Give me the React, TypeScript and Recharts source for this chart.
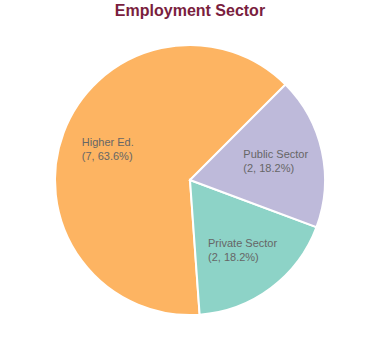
import { PieChart, Pie, Cell } from "recharts";

const sectors = ["Higher Ed.", "Private Sector", "Public Sector"];
const counts = [7, 2, 2];
const colors = ["#FDB462", "#8DD3C7", "#BEBADA"];

const FONT = "11px 'Liberation Sans', Arial, sans-serif";
const total = counts.reduce((a, b) => a + b, 0);

const measure = (s: string) => {
  const ctx = document.createElement("canvas").getContext("2d");
  if (!ctx) return s.length * 6;
  ctx.font = FONT;
  return ctx.measureText(s).width;
};

const renderLabel = (props: any) => {
  const { cx, cy, midAngle, outerRadius, payload } = props;
  const r = outerRadius * 0.65;
  const rad = (Math.PI / 180) * midAngle;
  const x = cx + r * Math.cos(rad);
  const y = cy - r * Math.sin(rad);
  const line1 = payload.name;
  const line2 = `(${payload.value}, ${((payload.value / total) * 100).toFixed(1)}%)`;
  const w = Math.max(measure(line1), measure(line2));
  const left = x - w / 2;
  return (
    <text x={left} y={y} fill="#666666" style={{ font: FONT }} textAnchor="start">
      <tspan x={left} dy={-3}>{line1}</tspan>
      <tspan x={left} dy={14}>{line2}</tspan>
    </text>
  );
};

export default function App() {
  const data = sectors.map((name, i) => ({ name, value: counts[i] }));
  return (
    <div style={{ position: "absolute", left: 0, top: 0, width: 380, height: 360, background: "#fff" }}>
      <div
        style={{
          position: "absolute",
          top: 2,
          left: 0,
          width: 380,
          textAlign: "center",
          font: "bold 16px 'Liberation Sans', Arial, sans-serif",
          color: "#7A1E3E",
        }}
      >
        Employment Sector
      </div>
      <PieChart width={380} height={360} margin={{ top: 0, right: 0, bottom: 0, left: 0 }}>
        <Pie
          data={data}
          dataKey="value"
          nameKey="name"
          cx={190}
          cy={180}
          outerRadius={135}
          startAngle={45}
          endAngle={405}
          stroke="#ffffff"
          strokeWidth={2}
          label={renderLabel}
          labelLine={false}
          isAnimationActive={false}
        >
          {data.map((d, i) => (
            <Cell key={d.name} fill={colors[i]} />
          ))}
        </Pie>
      </PieChart>
    </div>
  );
}
